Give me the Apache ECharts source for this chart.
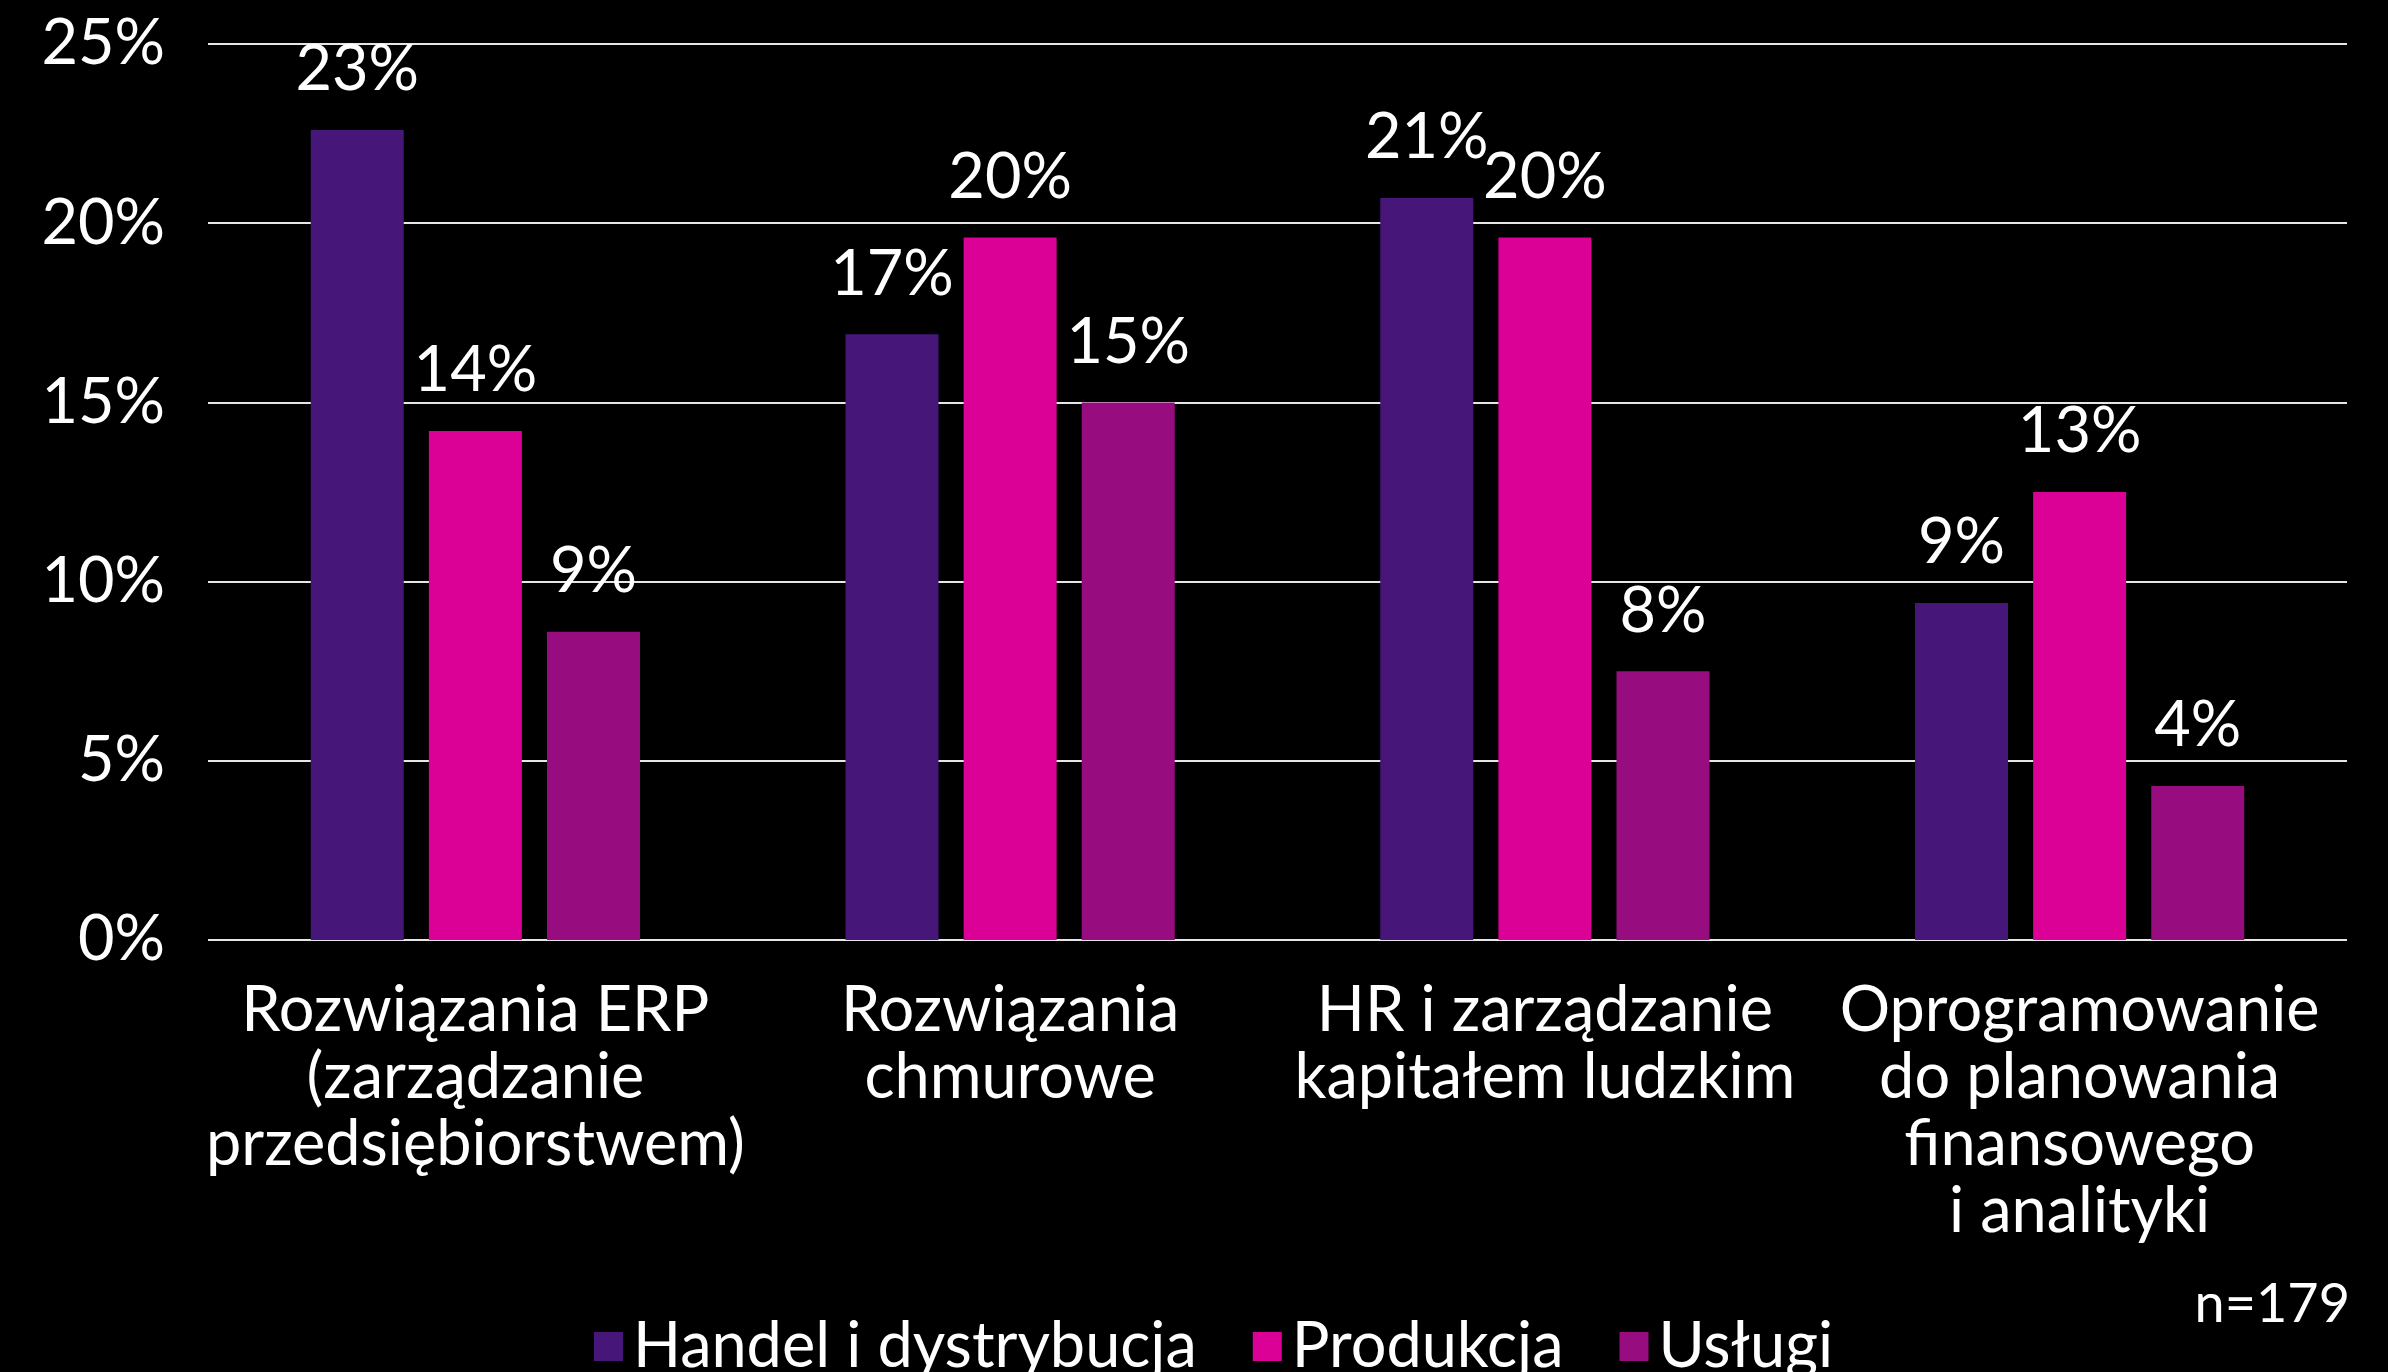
<!DOCTYPE html>
<html>
<head>
<meta charset="utf-8">
<style>
  html, body { margin: 0; padding: 0; background: #000; }
  #chart { width: 2388px; height: 1372px; }
</style>
<script src="https://cdn.jsdelivr.net/npm/echarts@6/dist/echarts.min.js"></script>
</head>
<body>
<div id="chart"></div>
<script>
// Categories of software investments
const categories = [
  'Rozwiązania ERP\n(zarządzanie\nprzedsiębiorstwem)',
  'Rozwiązania\nchmurowe',
  'HR i zarządzanie\nkapitałem ludzkim',
  'Oprogramowanie\ndo planowania\nfinansowego\ni analityki'
];

// Share of respondents per sector (%)
const handel = [22.6, 16.9, 20.7, 9.4];
const produkcja = [14.2, 19.6, 19.6, 12.5];
const uslugi = [8.6, 15.0, 7.5, 4.3];

const seriesNames = ['Handel i dystrybucja', 'Produkcja', 'Usługi'];
const seriesColors = ['#461779', '#DB0096', '#970D80'];

const yTicks = [0, 5, 10, 15, 20, 25];
const sampleNote = 'n=179';

const FONT = 'Lato';
const FS = 63;
const chart = echarts.init(document.getElementById('chart'));

const barLabel = {
  show: true,
  position: 'top',
  distance: 30,
  color: '#ffffff',
  fontFamily: FONT,
  fontSize: FS,
  lineHeight: 60,
  formatter: p => Math.round(p.value) + '%'
};

function makeSeries(name, data, color) {
  return {
    name: name,
    type: 'bar',
    data: data,
    barWidth: 93,
    barGap: '27%',
    itemStyle: { color: color },
    label: barLabel
  };
}

chart.setOption({
  backgroundColor: '#000000',
  animation: false,
  grid: { left: 208, right: 41, top: 44, bottom: 432 },
  legend: {
    left: 589,
    top: 1310,
    itemWidth: 29,
    itemHeight: 29,
    itemGap: 56,
    icon: 'rect',
    textStyle: { color: '#ffffff', fontFamily: FONT, fontSize: FS, padding: [0, 0, 0, 5] },
    data: seriesNames
  },
  graphic: [{
    type: 'text',
    right: 38,
    top: 1278,
    style: { text: sampleNote, fill: '#ffffff', font: '54px ' + FONT }
  }],
  xAxis: {
    type: 'category',
    data: categories,
    axisLine: { show: false },
    axisTick: { show: false },
    axisLabel: {
      interval: 0,
      margin: 37,
      color: '#ffffff',
      fontFamily: FONT,
      fontSize: FS,
      lineHeight: 67,
      align: 'center'
    }
  },
  yAxis: {
    type: 'value',
    min: 0,
    max: 25,
    interval: 5,
    axisLine: { show: false },
    axisTick: { show: false },
    splitLine: { show: true, lineStyle: { color: '#e6e6e6', width: 2 } },
    axisLabel: {
      margin: 43,
      color: '#ffffff',
      fontFamily: FONT,
      fontSize: FS,
      formatter: v => (yTicks.includes(v) ? v + '%' : '')
    }
  },
  series: [
    makeSeries(seriesNames[0], handel, seriesColors[0]),
    makeSeries(seriesNames[1], produkcja, seriesColors[1]),
    makeSeries(seriesNames[2], uslugi, seriesColors[2])
  ]
});
</script>
</body>
</html>
